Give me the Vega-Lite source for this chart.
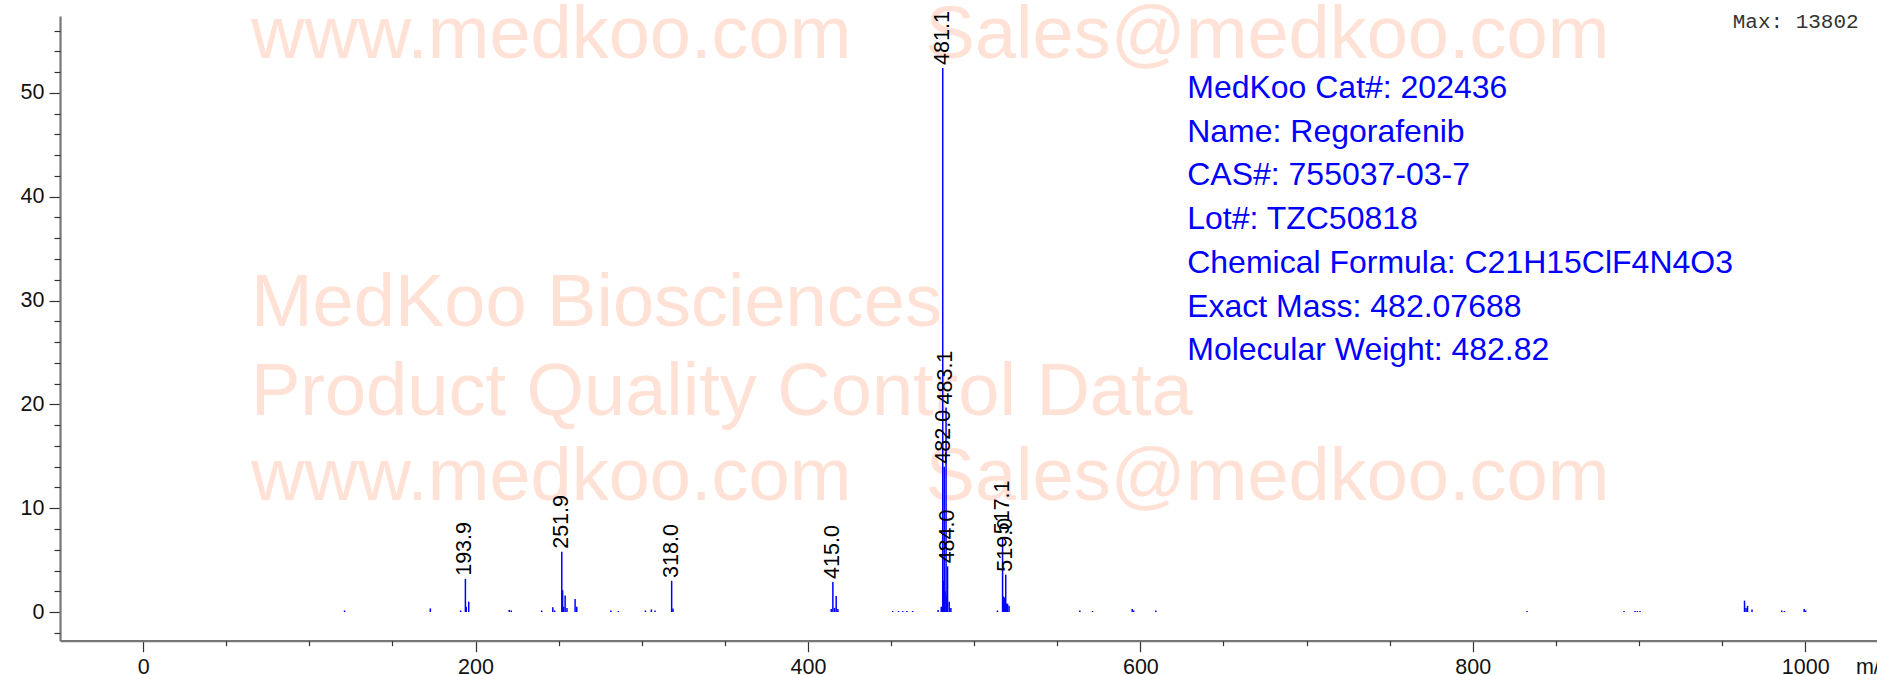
{
  "$schema": "https://vega.github.io/schema/vega-lite/v6.json",
  "width": 1820,
  "height": 624.7,
  "autosize": {"type": "none"},
  "padding": {"left": 60, "top": 16, "right": 0, "bottom": 40},
  "background": "white",
  "config": {
    "view": {"stroke": null},
    "axis": {"grid": false, "labelFont": "Liberation Sans", "titleFont": "Liberation Sans"}
  },
  "datasets": {
    "spectrum": [
      {"mz": 121.2, "intensity": 0.15}, {"mz": 172.8, "intensity": 0.35}, {"mz": 191.0, "intensity": 0.15},
      {"mz": 193.9, "intensity": 3.2}, {"mz": 194.4, "intensity": 0.5}, {"mz": 195.9, "intensity": 1.0},
      {"mz": 220.3, "intensity": 0.2}, {"mz": 221.5, "intensity": 0.15}, {"mz": 239.8, "intensity": 0.15},
      {"mz": 246.5, "intensity": 0.45}, {"mz": 247.6, "intensity": 0.15}, {"mz": 251.9, "intensity": 5.8},
      {"mz": 252.4, "intensity": 2.1}, {"mz": 253.0, "intensity": 0.5}, {"mz": 253.9, "intensity": 1.6},
      {"mz": 255.0, "intensity": 0.4}, {"mz": 259.9, "intensity": 1.25}, {"mz": 260.9, "intensity": 0.5},
      {"mz": 281.4, "intensity": 0.15}, {"mz": 285.9, "intensity": 0.1}, {"mz": 302.2, "intensity": 0.15},
      {"mz": 305.8, "intensity": 0.25}, {"mz": 308.0, "intensity": 0.15}, {"mz": 318.0, "intensity": 3.0},
      {"mz": 318.8, "intensity": 0.35}, {"mz": 414.0, "intensity": 0.3}, {"mz": 415.0, "intensity": 2.9},
      {"mz": 416.0, "intensity": 0.4}, {"mz": 417.0, "intensity": 1.55}, {"mz": 418.0, "intensity": 0.3},
      {"mz": 451.0, "intensity": 0.1}, {"mz": 454.5, "intensity": 0.1}, {"mz": 457.0, "intensity": 0.1},
      {"mz": 459.5, "intensity": 0.1}, {"mz": 463.0, "intensity": 0.1}, {"mz": 478.3, "intensity": 0.2},
      {"mz": 480.2, "intensity": 0.5}, {"mz": 481.1, "intensity": 52.4}, {"mz": 481.6, "intensity": 3.0},
      {"mz": 482.0, "intensity": 14.0}, {"mz": 482.5, "intensity": 2.0}, {"mz": 483.1, "intensity": 19.7},
      {"mz": 483.6, "intensity": 1.5}, {"mz": 484.0, "intensity": 4.4}, {"mz": 485.0, "intensity": 1.0},
      {"mz": 486.0, "intensity": 0.4}, {"mz": 514.0, "intensity": 0.15}, {"mz": 517.1, "intensity": 7.2},
      {"mz": 517.6, "intensity": 1.5}, {"mz": 518.1, "intensity": 1.4}, {"mz": 519.0, "intensity": 3.6},
      {"mz": 519.5, "intensity": 0.8}, {"mz": 520.1, "intensity": 0.8}, {"mz": 521.0, "intensity": 0.6},
      {"mz": 563.6, "intensity": 0.15}, {"mz": 571.2, "intensity": 0.1}, {"mz": 595.1, "intensity": 0.3},
      {"mz": 596.0, "intensity": 0.15}, {"mz": 609.3, "intensity": 0.15}, {"mz": 832.6, "intensity": 0.1},
      {"mz": 891.0, "intensity": 0.1}, {"mz": 897.6, "intensity": 0.1}, {"mz": 899.0, "intensity": 0.1},
      {"mz": 900.6, "intensity": 0.1}, {"mz": 963.5, "intensity": 1.1}, {"mz": 964.4, "intensity": 0.4},
      {"mz": 965.3, "intensity": 0.6}, {"mz": 968.0, "intensity": 0.25}, {"mz": 985.9, "intensity": 0.15},
      {"mz": 987.5, "intensity": 0.1}, {"mz": 999.4, "intensity": 0.3}, {"mz": 1000.3, "intensity": 0.15}
    ],
    "labels": [
      {"mz": 193.9, "intensity": 3.2}, {"mz": 251.9, "intensity": 5.8}, {"mz": 318.0, "intensity": 3.0},
      {"mz": 415.0, "intensity": 2.9}, {"mz": 481.1, "intensity": 52.4}, {"mz": 482.0, "intensity": 14.0},
      {"mz": 483.1, "intensity": 19.7}, {"mz": 484.0, "intensity": 4.4}, {"mz": 519.0, "intensity": 3.6},
      {"mz": 517.1, "intensity": 7.2}
    ]
  },
  "resolve": {"axis": {"x": "independent", "y": "independent"}},
  "layer": [
    {
      "data": {"values": [{}]},
      "mark": {"type": "text", "text": "www.medkoo.com", "font": "Liberation Sans", "fontSize": 74, "color": "#ffe1d6", "align": "left", "baseline": "alphabetic"},
      "encoding": {
        "x": {"datum": 64.9, "type": "quantitative", "scale": {"domain": [-50, 1045], "nice": false, "zero": false}, "axis": null},
        "y": {"datum": 53.37, "type": "quantitative", "scale": {"domain": [-2.76, 57.4], "nice": false, "zero": false}, "axis": null}
      }
    },
    {
      "data": {"values": [{}]},
      "mark": {"type": "text", "text": "Sales@medkoo.com", "font": "Liberation Sans", "fontSize": 74, "color": "#ffe1d6", "align": "left", "baseline": "alphabetic"},
      "encoding": {
        "x": {"datum": 470.8, "type": "quantitative", "scale": {"domain": [-50, 1045], "nice": false, "zero": false}, "axis": null},
        "y": {"datum": 53.37, "type": "quantitative", "scale": {"domain": [-2.76, 57.4], "nice": false, "zero": false}, "axis": null}
      }
    },
    {
      "data": {"values": [{}]},
      "mark": {"type": "text", "text": "MedKoo Biosciences", "font": "Liberation Sans", "fontSize": 74, "color": "#ffe1d6", "align": "left", "baseline": "alphabetic"},
      "encoding": {
        "x": {"datum": 64.9, "type": "quantitative", "scale": {"domain": [-50, 1045], "nice": false, "zero": false}, "axis": null},
        "y": {"datum": 27.56, "type": "quantitative", "scale": {"domain": [-2.76, 57.4], "nice": false, "zero": false}, "axis": null}
      }
    },
    {
      "data": {"values": [{}]},
      "mark": {"type": "text", "text": "Product Quality Control Data", "font": "Liberation Sans", "fontSize": 74, "color": "#ffe1d6", "align": "left", "baseline": "alphabetic"},
      "encoding": {
        "x": {"datum": 64.9, "type": "quantitative", "scale": {"domain": [-50, 1045], "nice": false, "zero": false}, "axis": null},
        "y": {"datum": 18.96, "type": "quantitative", "scale": {"domain": [-2.76, 57.4], "nice": false, "zero": false}, "axis": null}
      }
    },
    {
      "data": {"values": [{}]},
      "mark": {"type": "text", "text": "www.medkoo.com", "font": "Liberation Sans", "fontSize": 74, "color": "#ffe1d6", "align": "left", "baseline": "alphabetic"},
      "encoding": {
        "x": {"datum": 64.9, "type": "quantitative", "scale": {"domain": [-50, 1045], "nice": false, "zero": false}, "axis": null},
        "y": {"datum": 10.78, "type": "quantitative", "scale": {"domain": [-2.76, 57.4], "nice": false, "zero": false}, "axis": null}
      }
    },
    {
      "data": {"values": [{}]},
      "mark": {"type": "text", "text": "Sales@medkoo.com", "font": "Liberation Sans", "fontSize": 74, "color": "#ffe1d6", "align": "left", "baseline": "alphabetic"},
      "encoding": {
        "x": {"datum": 470.8, "type": "quantitative", "scale": {"domain": [-50, 1045], "nice": false, "zero": false}, "axis": null},
        "y": {"datum": 10.78, "type": "quantitative", "scale": {"domain": [-2.76, 57.4], "nice": false, "zero": false}, "axis": null}
      }
    },
    {
      "data": {"name": "spectrum"},
      "mark": {"type": "rule", "color": "#0000ff", "strokeWidth": 1.5},
      "encoding": {
        "x": {"field": "mz", "type": "quantitative", "scale": {"domain": [-50, 1045], "nice": false, "zero": false},
          "axis": {"orient": "bottom", "values": [0, 200, 400, 600, 800, 1000], "format": "d", "tickSize": 11, "tickColor": "#333333", "tickWidth": 1.2, "domainColor": "#777777", "domainWidth": 2.2, "labelFontSize": 21.5, "labelColor": "#111111", "labelPadding": 5, "labelFlush": false, "labelOverlap": false, "title": null}},
        "y": {"field": "intensity", "type": "quantitative", "scale": {"domain": [-2.76, 57.4], "nice": false, "zero": false},
          "axis": {"orient": "left", "values": [0, 10, 20, 30, 40, 50], "format": "d", "tickSize": 11, "tickColor": "#333333", "tickWidth": 1.2, "domainColor": "#777777", "domainWidth": 2.2, "labelFontSize": 21.5, "labelColor": "#111111", "labelPadding": 5, "labelFlush": false, "labelOverlap": false, "title": null}},
        "y2": {"datum": 0}
      }
    },
    {
      "data": {"values": [{}]},
      "mark": {"type": "point", "opacity": 0},
      "encoding": {
        "x": {"datum": 0, "type": "quantitative", "scale": {"domain": [-50, 1045], "nice": false, "zero": false},
          "axis": {"orient": "bottom", "values": [50, 100, 150, 250, 300, 350, 450, 500, 550, 650, 700, 750, 850, 900, 950], "tickSize": 5, "tickColor": "#333333", "tickWidth": 1.2, "labels": false, "domain": false, "title": null}},
        "y": {"datum": 0, "type": "quantitative", "scale": {"domain": [-2.76, 57.4], "nice": false, "zero": false},
          "axis": {"orient": "left", "values": [-2, 2, 4, 6, 8, 12, 14, 16, 18, 22, 24, 26, 28, 32, 34, 36, 38, 42, 44, 46, 48, 52, 54, 56], "tickSize": 6, "tickColor": "#333333", "tickWidth": 1.2, "labels": false, "domain": false, "title": null}}
      }
    },
    {
      "data": {"name": "labels"},
      "mark": {"type": "text", "angle": 270, "align": "left", "baseline": "middle", "dx": 3, "font": "Liberation Sans", "fontSize": 21.5, "color": "#000000"},
      "encoding": {
        "x": {"field": "mz", "type": "quantitative", "scale": {"domain": [-50, 1045], "nice": false, "zero": false}, "axis": null},
        "y": {"field": "intensity", "type": "quantitative", "scale": {"domain": [-2.76, 57.4], "nice": false, "zero": false}, "axis": null},
        "text": {"field": "mz", "type": "quantitative", "format": ".1f"}
      }
    },
    {
      "data": {"values": [{}]},
      "mark": {"type": "text", "text": ["MedKoo Cat#: 202436", "Name: Regorafenib", "CAS#: 755037-03-7", "Lot#: TZC50818", "Chemical Formula: C21H15ClF4N4O3", "Exact Mass: 482.07688", "Molecular Weight: 482.82"], "lineHeight": 43.7, "font": "Liberation Sans", "fontSize": 32, "color": "#0000ff", "align": "left", "baseline": "alphabetic"},
      "encoding": {
        "x": {"datum": 628.2, "type": "quantitative", "scale": {"domain": [-50, 1045], "nice": false, "zero": false}, "axis": null},
        "y": {"datum": 49.5, "type": "quantitative", "scale": {"domain": [-2.76, 57.4], "nice": false, "zero": false}, "axis": null}
      }
    },
    {
      "data": {"values": [{}]},
      "mark": {"type": "text", "text": "Max: 13802", "font": "Liberation Mono", "fontSize": 21, "color": "#333333", "align": "left", "baseline": "alphabetic"},
      "encoding": {
        "x": {"datum": 956.4, "type": "quantitative", "scale": {"domain": [-50, 1045], "nice": false, "zero": false}, "axis": null},
        "y": {"datum": 56.2, "type": "quantitative", "scale": {"domain": [-2.76, 57.4], "nice": false, "zero": false}, "axis": null}
      }
    },
    {
      "data": {"values": [{}]},
      "mark": {"type": "text", "text": "m/z", "font": "Liberation Sans", "fontSize": 21.5, "color": "#111111", "align": "left", "baseline": "top"},
      "encoding": {
        "x": {"datum": 1030.5, "type": "quantitative", "scale": {"domain": [-50, 1045], "nice": false, "zero": false}, "axis": null},
        "y": {"datum": -4.3, "type": "quantitative", "scale": {"domain": [-2.76, 57.4], "nice": false, "zero": false}, "axis": null}
      }
    }
  ]
}
